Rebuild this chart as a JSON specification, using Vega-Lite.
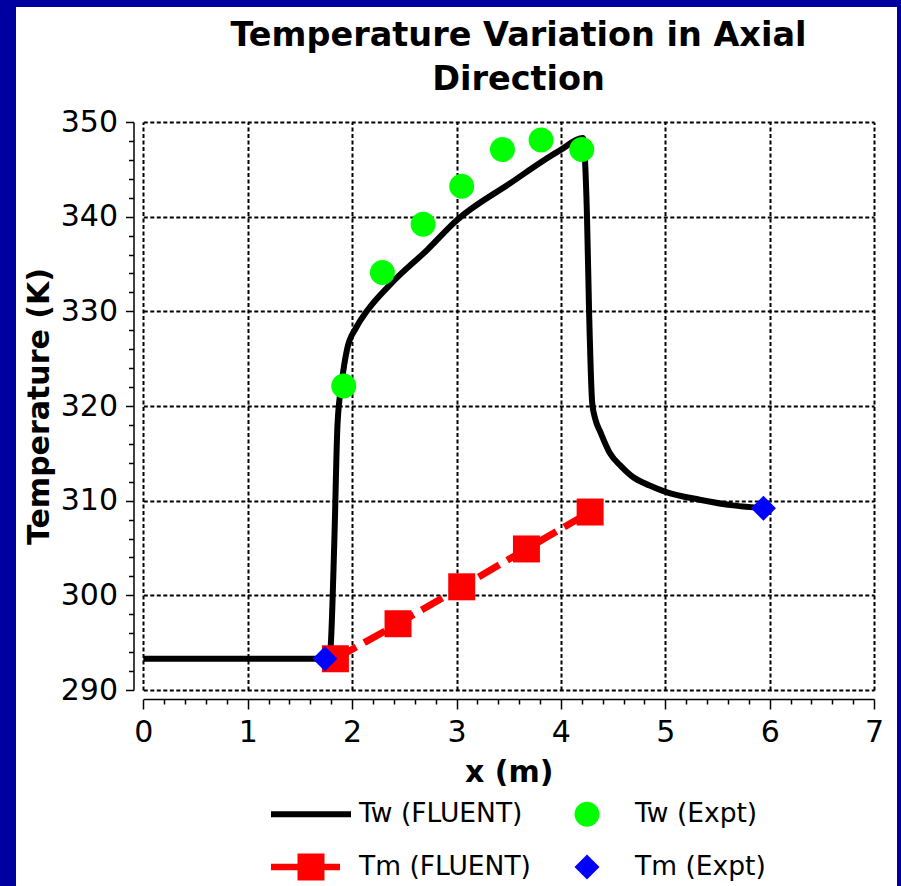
{
  "$schema": "https://vega.github.io/schema/vega-lite/v6.json",
  "width": 881,
  "height": 879,
  "autosize": {"type": "none"},
  "padding": {"left": 16, "top": 7, "right": 4, "bottom": 0},
  "background": "#0000A0",
  "config": {
    "view": {"fill": "white", "stroke": null},
    "font": "DejaVu Sans"
  },
  "title": {
    "text": ["Temperature Variation in Axial", "Direction"],
    "fontSize": 33.5,
    "fontWeight": "bold",
    "font": "DejaVu Sans",
    "color": "black",
    "anchor": "middle",
    "frame": "group",
    "lineHeight": 44,
    "dx": 62,
    "offset": -90
  },
  "data": {
    "values": [
      {"series": "Tw (FLUENT)", "x": 0, "T": 293.3},
      {"series": "Tw (FLUENT)", "x": 0.5, "T": 293.3},
      {"series": "Tw (FLUENT)", "x": 1.0, "T": 293.3},
      {"series": "Tw (FLUENT)", "x": 1.5, "T": 293.3},
      {"series": "Tw (FLUENT)", "x": 1.78, "T": 293.3},
      {"series": "Tw (FLUENT)", "x": 1.795, "T": 294.6},
      {"series": "Tw (FLUENT)", "x": 1.83, "T": 305.8},
      {"series": "Tw (FLUENT)", "x": 1.86, "T": 318.0},
      {"series": "Tw (FLUENT)", "x": 1.9, "T": 322.4},
      {"series": "Tw (FLUENT)", "x": 1.95, "T": 325.9},
      {"series": "Tw (FLUENT)", "x": 2.04, "T": 328.3},
      {"series": "Tw (FLUENT)", "x": 2.14, "T": 330.0},
      {"series": "Tw (FLUENT)", "x": 2.38, "T": 333.0},
      {"series": "Tw (FLUENT)", "x": 2.72, "T": 336.5},
      {"series": "Tw (FLUENT)", "x": 3.0, "T": 339.6},
      {"series": "Tw (FLUENT)", "x": 3.51, "T": 343.5},
      {"series": "Tw (FLUENT)", "x": 3.99, "T": 347.0},
      {"series": "Tw (FLUENT)", "x": 4.21, "T": 348.3},
      {"series": "Tw (FLUENT)", "x": 4.25, "T": 340.0},
      {"series": "Tw (FLUENT)", "x": 4.27, "T": 330.0},
      {"series": "Tw (FLUENT)", "x": 4.3, "T": 320.3},
      {"series": "Tw (FLUENT)", "x": 4.33, "T": 318.6},
      {"series": "Tw (FLUENT)", "x": 4.38, "T": 317.2},
      {"series": "Tw (FLUENT)", "x": 4.47, "T": 315.0},
      {"series": "Tw (FLUENT)", "x": 4.58, "T": 313.6},
      {"series": "Tw (FLUENT)", "x": 4.69, "T": 312.5},
      {"series": "Tw (FLUENT)", "x": 4.85, "T": 311.6},
      {"series": "Tw (FLUENT)", "x": 5.01, "T": 310.9},
      {"series": "Tw (FLUENT)", "x": 5.33, "T": 310.1},
      {"series": "Tw (FLUENT)", "x": 5.65, "T": 309.5},
      {"series": "Tw (FLUENT)", "x": 5.94, "T": 309.2},
      {"series": "Tm (FLUENT)", "x": 1.84, "T": 293.3},
      {"series": "Tm (FLUENT)", "x": 2.44, "T": 297.0},
      {"series": "Tm (FLUENT)", "x": 3.05, "T": 300.9},
      {"series": "Tm (FLUENT)", "x": 3.67, "T": 304.9},
      {"series": "Tm (FLUENT)", "x": 4.28, "T": 308.8},
      {"series": "Tw (Expt)", "x": 1.92, "T": 322.1},
      {"series": "Tw (Expt)", "x": 2.29, "T": 334.1},
      {"series": "Tw (Expt)", "x": 2.68, "T": 339.2},
      {"series": "Tw (Expt)", "x": 3.05, "T": 343.2},
      {"series": "Tw (Expt)", "x": 3.44, "T": 347.1},
      {"series": "Tw (Expt)", "x": 3.81, "T": 348.1},
      {"series": "Tw (Expt)", "x": 4.2, "T": 347.1},
      {"series": "Tm (Expt)", "x": 1.74, "T": 293.3},
      {"series": "Tm (Expt)", "x": 5.94, "T": 309.2}
    ]
  },
  "encoding": {
    "y": {
      "field": "T",
      "type": "quantitative",
      "scale": {"domain": [290, 350], "range": [683, 115], "nice": false, "zero": false},
      "axis": {
        "title": "Temperature (K)",
        "offset": -117.5,
        "values": [290, 292, 294, 296, 298, 300, 302, 304, 306, 308, 310, 312, 314, 316, 318, 320, 322, 324, 326, 328, 330, 332, 334, 336, 338, 340, 342, 344, 346, 348, 350],
        "labelExpr": "datum.value % 10 === 0 ? format(datum.value, 'd') : ''",
        "labelOverlap": false,
        "labelFlush": false,
        "labelFontSize": 30,
        "labelColor": "black",
        "labelPadding": 8,
        "tickSize": {"condition": {"test": "datum.value % 10 === 0", "value": 8}, "value": 5},
        "tickColor": "black",
        "tickWidth": 1.5,
        "domainColor": "black",
        "domainWidth": 1.5,
        "grid": true,
        "gridColor": "black",
        "gridDash": [4, 2.5],
        "gridWidth": 2,
        "gridOpacity": {"condition": {"test": "datum.value % 10 === 0", "value": 1}, "value": 0},
        "titleFontSize": 30,
        "titleFontWeight": "bold",
        "titleColor": "black",
        "titlePadding": 6
      }
    },
    "color": {
      "field": "series",
      "type": "nominal",
      "scale": {
        "domain": ["Tw (FLUENT)", "Tw (Expt)", "Tm (FLUENT)", "Tm (Expt)"],
        "range": ["#000000", "#00FF00", "#FF0000", "#0000FF"]
      },
      "legend": {
        "orient": "none",
        "legendX": 270,
        "legendY": 782,
        "columns": 2,
        "direction": "horizontal",
        "title": null,
        "padding": 0,
        "labelFontSize": 26.5,
        "labelFont": "DejaVu Sans",
        "labelColor": "black",
        "labelLimit": 400,
        "labelOffset": 23,
        "symbolSize": 2500,
        "columnPadding": 31,
        "rowPadding": 14,
        "encode": {
          "symbols": {
            "update": {
              "shape": {"scale": "shape", "field": "value"},
              "fill": {"scale": "color", "field": "value"},
              "stroke": {"value": "transparent"},
              "strokeWidth": {"value": 0},
              "size": {"value": 2500},
              "opacity": {"value": 1}
            }
          }
        }
      }
    }
  },
  "resolve": {"axis": {"x": "independent"}},
  "layer": [
    {
      "transform": [{"filter": "datum.series === 'Tw (FLUENT)'"}],
      "mark": {"type": "line", "strokeWidth": 6, "strokeJoin": "round", "interpolate": "monotone"},
      "encoding": {
        "x": {
          "field": "x",
          "type": "quantitative",
          "scale": {"domain": [0, 7], "range": [127.3, 858.1], "nice": false, "zero": false},
          "axis": {
            "title": "x (m)",
            "orient": "bottom",
            "offset": -187,
            "grid": false,
            "values": [0, 0.2, 0.4, 0.6, 0.8, 1, 1.2, 1.4, 1.6, 1.8, 2, 2.2, 2.4, 2.6, 2.8, 3, 3.2, 3.4, 3.6, 3.8, 4, 4.2, 4.4, 4.6, 4.8, 5, 5.2, 5.4, 5.6, 5.8, 6, 6.2, 6.4, 6.6, 6.8, 7],
            "labelExpr": "datum.value % 1 === 0 ? format(datum.value, 'd') : ''",
            "labelOverlap": false,
            "labelFlush": false,
            "labelFontSize": 30,
            "labelColor": "black",
            "labelPadding": 8,
            "tickSize": {"condition": {"test": "datum.value % 1 === 0", "value": 10}, "value": 5},
            "tickColor": "black",
            "tickWidth": 1.5,
            "domainColor": "black",
            "domainWidth": 1.5,
            "titleFontSize": 30,
            "titleFontWeight": "bold",
            "titleColor": "black",
            "titlePadding": 10
          }
        }
      }
    },
    {
      "transform": [{"filter": "datum.series === 'Tm (FLUENT)'"}],
      "mark": {"type": "line", "strokeWidth": 7, "strokeDash": [24, 9]},
      "encoding": {
        "x": {
          "field": "x",
          "type": "quantitative",
          "scale": {"domain": [0, 7], "range": [127.3, 858.1], "nice": false, "zero": false},
          "axis": {
            "orient": "top",
            "title": null,
            "offset": 0,
            "grid": true,
            "labels": false,
            "ticks": false,
            "domain": false,
            "values": [0, 1, 2, 3, 4, 5, 6, 7],
            "gridColor": "black",
            "gridDash": [4, 2.5],
            "gridWidth": 2,
            "gridOpacity": 1
          }
        }
      }
    },
    {
      "transform": [{"filter": "datum.series === 'Tm (FLUENT)'"}],
      "mark": {"type": "point", "shape": "square", "size": 729, "filled": true, "opacity": 1},
      "encoding": {
        "x": {"field": "x", "type": "quantitative", "axis": null}
      }
    },
    {
      "transform": [{"filter": "datum.series === 'Tw (Expt)' || datum.series === 'Tm (Expt)'"}],
      "mark": {"type": "point", "size": 2500, "filled": true, "opacity": 1},
      "encoding": {
        "x": {"field": "x", "type": "quantitative", "axis": null},
        "shape": {
          "field": "series",
          "type": "nominal",
          "legend": null,
          "scale": {
            "domain": ["Tw (FLUENT)", "Tw (Expt)", "Tm (FLUENT)", "Tm (Expt)"],
            "range": [
              "M-1.6,-0.12H1.6V0.12H-1.6Z",
              "M-0.5,0A0.5,0.5 0 1,0 0.5,0A0.5,0.5 0 1,0 -0.5,0Z",
              "M-1.6,-0.13H-0.54V-0.54H0.54V-0.13H1.16V0.13H0.54V0.54H-0.54V0.13H-1.6Z",
              "M0,-0.5L0.5,0L0,0.5L-0.5,0Z"
            ]
          }
        }
      }
    }
  ]
}
